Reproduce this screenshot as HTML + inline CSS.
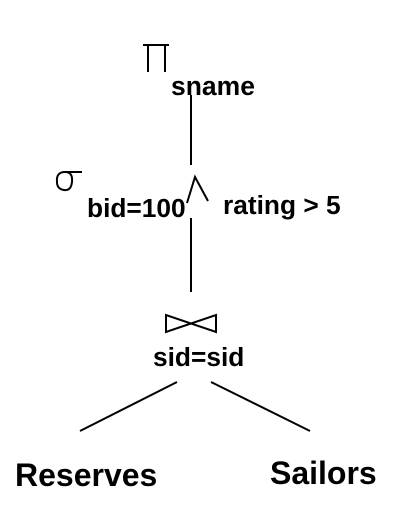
<!DOCTYPE html>
<html><head><meta charset="utf-8"><style>
html,body{margin:0;padding:0;background:#fff;}
svg{display:block;}
text{font-family:"Liberation Sans",Arial,sans-serif;font-weight:bold;fill:#000;}
</style></head><body>
<svg width="403" height="508" viewBox="0 0 403 508">
<g stroke="#000" stroke-width="2" fill="none">
<path d="M143 45 H169 M148 45 V72 M165 45 V72"/>
</g>
<text x="171" y="95" font-size="26.5">sname</text>
<line x1="191" y1="95" x2="191" y2="165" stroke="#000" stroke-width="2"/>
<g stroke="#000" stroke-width="2" fill="none">
<path d="M57 182 Q56 172 65 172 Q73 172 72 182 Q71 191 64 190 Q57 189 57 182 Z M65 172 H82"/>
<path d="M187 203 L195 177 L208 201"/>
</g>
<text x="87" y="217" font-size="26.3">bid=100</text>
<text x="223" y="214" font-size="26.3">rating &gt; 5</text>
<line x1="191" y1="218" x2="191" y2="292" stroke="#000" stroke-width="2"/>
<path d="M166 315 V332 L216 315 V332 Z" stroke="#000" stroke-width="2" fill="none"/>
<text x="153" y="366" font-size="26.3">sid=sid</text>
<line x1="177" y1="382" x2="80" y2="431" stroke="#000" stroke-width="2"/>
<line x1="211" y1="382" x2="310" y2="431" stroke="#000" stroke-width="2"/>
<text x="15" y="486" font-size="32">Reserves</text>
<text x="270" y="484" font-size="32">Sailors</text>
</svg>
</body></html>
